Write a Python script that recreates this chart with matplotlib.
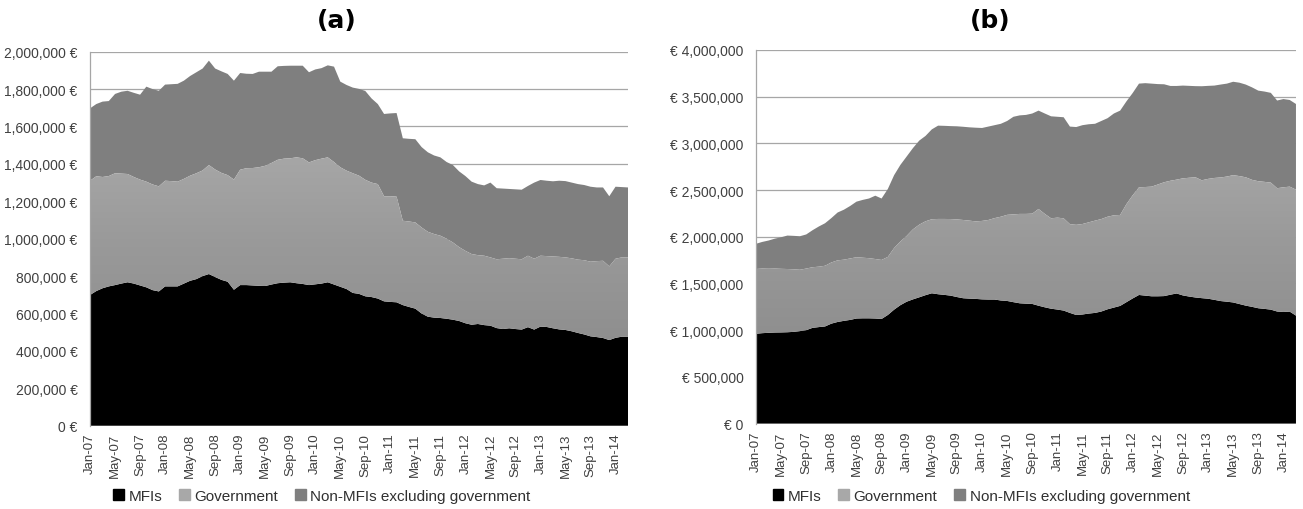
import numpy as np
import matplotlib
matplotlib.use("Agg")
import matplotlib.pyplot as plt
from matplotlib.colors import LinearSegmentedColormap
from matplotlib.patches import Patch
from matplotlib.ticker import FuncFormatter, MultipleLocator

plt.rcParams['font.family'] = ['Liberation Sans', 'DejaVu Sans']

# monthly observations, Jan-07 .. Mar-14 (thousands of euro)
month_names = ['Jan', 'Feb', 'Mar', 'Apr', 'May', 'Jun', 'Jul', 'Aug', 'Sep', 'Oct', 'Nov', 'Dec']
months = [f"{month_names[i % 12]}-{7 + i // 12:02d}" for i in range(87)]
series_names = ['MFIs', 'Government', 'Non-MFIs excluding government']

# (a)
mfi_a = [699, 720, 735, 745, 752, 760, 767, 760, 750, 740,
         725, 718, 745, 745, 745, 760, 775, 784, 800, 811,
         795, 780, 770, 727, 752, 752, 750, 748, 747, 755,
         762, 765, 767, 762, 758, 752, 756, 760, 767, 755,
         743, 731, 710, 705, 692, 688, 680, 665, 662, 660,
         645, 635, 626, 600, 583, 578, 576, 572, 567, 560,
         548, 540, 544, 538, 535, 522, 517, 521, 517, 514,
         527, 514, 530, 528, 521, 515, 512, 505, 496, 488,
         478, 474, 469, 458, 470, 476, 476]
gov_a = [611, 614, 595, 590, 598, 588, 579, 570, 566, 565,
         565, 562, 565, 563, 560, 560, 562, 566, 565, 583,
         575, 572, 570, 589, 617, 625, 628, 634, 643, 650,
         660, 663, 663, 673, 672, 656, 664, 668, 668, 655,
         639, 633, 640, 632, 623, 612, 612, 562, 565, 565,
         451, 457, 461, 460, 454, 447, 440, 428, 413, 395,
         387, 378, 368, 371, 365, 368, 376, 375, 376, 376,
         382, 379, 379, 379, 384, 388, 388, 390, 392, 397,
         399, 406, 413, 394, 423, 424, 424]
non_a = [387, 386, 403, 401, 424, 438, 445, 450, 454, 508,
         510, 511, 514, 518, 523, 525, 533, 540, 545, 558,
         540, 543, 541, 529, 517, 505, 503, 511, 503, 488,
         500, 496, 495, 490, 495, 482, 485, 484, 492, 510,
         458, 458, 458, 464, 475, 450, 428, 440, 443, 447,
         441, 442, 445, 430, 425, 420, 419, 410, 414, 405,
         400, 387, 380, 376, 400, 380, 375, 370, 371, 372,
         373, 407, 405, 403, 402, 407, 408, 405, 404, 402,
         401, 394, 392, 375, 385, 376, 374]

# (b)
mfi_b = [962, 968, 972, 975, 976, 978, 982, 990, 1000, 1025,
         1033, 1040, 1070, 1088, 1100, 1110, 1125, 1127, 1127, 1125,
         1120, 1163, 1220, 1268, 1305, 1330, 1352, 1375, 1395, 1385,
         1378, 1370, 1355, 1342, 1338, 1335, 1330, 1328, 1328, 1318,
         1313, 1300, 1288, 1284, 1281, 1262, 1245, 1230, 1221, 1210,
         1185, 1163, 1168, 1178, 1185, 1200, 1224, 1242, 1260, 1300,
         1340, 1377, 1370, 1363, 1363, 1365, 1380, 1393, 1372, 1360,
         1350, 1343, 1337, 1325, 1312, 1305, 1297, 1280, 1263, 1250,
         1235, 1228, 1220, 1200, 1195, 1199, 1156]
gov_b = [693, 692, 686, 685, 681, 677, 670, 657, 660, 649,
         647, 650, 655, 660, 655, 658, 656, 649, 644, 637,
         632, 622, 660, 682, 705, 750, 778, 791, 793, 806,
         813, 820, 831, 838, 835, 830, 840, 852, 872, 897,
         922, 940, 957, 961, 967, 1036, 1000, 968, 984, 988,
         950, 965, 969, 977, 988, 990, 991, 988, 974, 1050,
         1105, 1153, 1163, 1174, 1197, 1219, 1220, 1219, 1254, 1272,
         1287, 1262, 1283, 1305, 1323, 1340, 1363, 1370, 1374, 1360,
         1360, 1360, 1360, 1320, 1335, 1338, 1349]
non_b = [270, 285, 302, 320, 338, 358, 358, 359, 365, 396,
         430, 455, 475, 512, 535, 562, 595, 619, 639, 678,
         658, 727, 780, 820, 850, 870, 900, 914, 962, 999,
         997, 995, 997, 998, 999, 1003, 995, 1000, 995, 995,
         1005, 1045, 1055, 1060, 1072, 1053, 1075, 1092, 1080, 1082,
         1045, 1047, 1058, 1050, 1037, 1050, 1055, 1090, 1117, 1100,
         1095, 1110, 1112, 1103, 1075, 1049, 1015, 1003, 993, 984,
         976, 1007, 996, 989, 995, 995, 1000, 1000, 993, 990,
         970, 967, 961, 939, 945, 928, 917]

C_MFI = '#000000'
C_GOV = '#a8a8a8'
C_NON = '#7f7f7f'
gov_fill = LinearSegmentedColormap.from_list('govfill', ['#858585', '#9a9a9a', '#b6b6b6'])


def draw_panel(ax, mfi, gov, non, ymax, step, fmt):
    x = np.arange(len(months))
    vals = [np.array(v) * 1000 for v in (mfi, gov, non)]
    polys = ax.stackplot(x, *vals, colors=[C_MFI, 'none', C_NON], linewidth=0, zorder=2)

    # vertical shading inside the Government band
    grad = np.linspace(0, 1, 256).reshape(-1, 1)
    im = ax.imshow(grad, cmap=gov_fill, origin='lower', aspect='auto',
                   extent=[0, len(x) - 1, 0, ymax], zorder=2)
    im.set_clip_path(polys[1].get_paths()[0], ax.transData)

    ax.set_xlim(0, len(x) - 1)
    ax.set_ylim(0, ymax)
    ax.yaxis.set_major_locator(MultipleLocator(step))
    ax.yaxis.set_major_formatter(FuncFormatter(fmt))
    ax.set_xticks(x[::4])
    ax.set_xticklabels(months[::4], rotation=90, fontsize=9.5, color='#404040')
    ax.tick_params(axis='y', labelsize=10, labelcolor='#404040', length=0, pad=9)
    ax.tick_params(axis='x', length=0, pad=5)
    ax.grid(axis='y', color='#a6a6a6', linewidth=0.9)
    ax.set_axisbelow(True)
    for s in ('top', 'right', 'bottom'):
        ax.spines[s].set_visible(False)
    ax.spines['left'].set_color('#a6a6a6')
    ax.spines['left'].set_linewidth(0.9)


fig = plt.figure(figsize=(13.03, 5.10), dpi=100)
ax_a = fig.add_axes([0.0691, 0.1633, 0.4129, 0.7334])
ax_b = fig.add_axes([0.5802, 0.1675, 0.4144, 0.7325])

draw_panel(ax_a, mfi_a, gov_a, non_a, 2000000, 200000,
           lambda v, p: f"{int(v):,} €")
draw_panel(ax_b, mfi_b, gov_b, non_b, 4000000, 500000,
           lambda v, p: f"€ {int(v):,}")

fig.text(0.2586, 0.958, '(a)', ha='center', va='center', fontsize=18,
         fontweight='bold', family='DejaVu Sans')
fig.text(0.7598, 0.958, '(b)', ha='center', va='center', fontsize=18,
         fontweight='bold', family='DejaVu Sans')

handles = [Patch(color=C_MFI), Patch(color=C_GOV), Patch(color=C_NON)]
for cx in (0.247, 0.753):
    fig.legend(handles, series_names, loc='center', bbox_to_anchor=(cx, 0.026),
               ncol=3, frameon=False, fontsize=11, handlelength=0.7,
               handleheight=0.7, handletextpad=0.3, columnspacing=1.1,
               labelcolor='#303030')

fig.savefig('out.png', dpi=100)
